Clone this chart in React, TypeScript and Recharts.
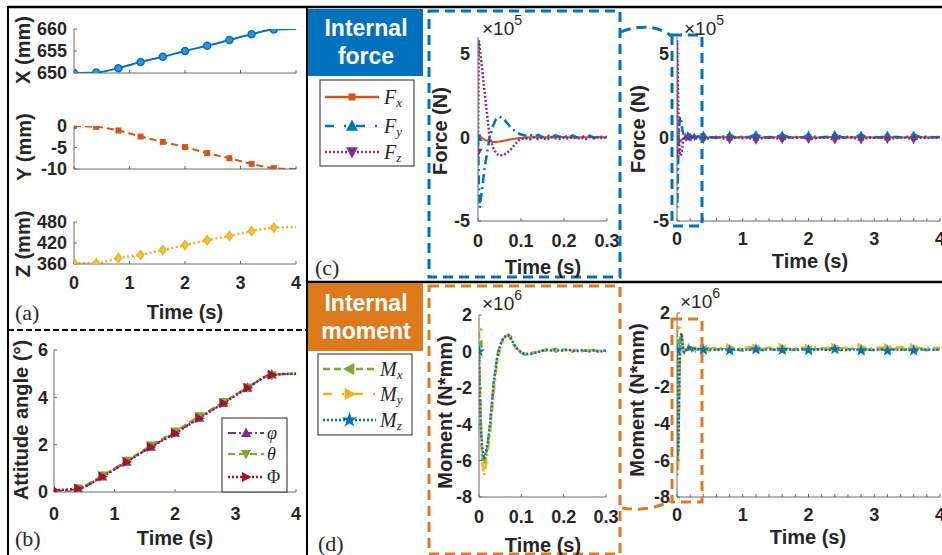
import React from 'react';
import { LineChart, Line, XAxis, YAxis } from 'recharts';

const SANS = '"Liberation Sans", Arial, Helvetica, sans-serif';
const SERIF = '"Liberation Serif", "Times New Roman", serif';
const INK = '#262626';
const AXIS = '#6a6a6a';

const BLUE = '#0072BD';
const ORANGE = '#D95319';
const YELLOW = '#EDB120';
const PURPLE = '#7E2F8E';
const GREEN = '#77AC30';
const RED = '#A2142F';
const BOX_ORANGE = '#DD7A1C';

// (a) end position, mm
const posTime = [0, 0.4, 0.8, 1.2, 1.6, 2.0, 2.4, 2.8, 3.2, 3.6, 4.0];
const posX = [650, 650.1, 651.1, 652.5, 653.7, 655.0, 656.2, 657.5, 658.8, 659.9, 660];
const posY = [0, -0.2, -1.05, -2.45, -3.7, -4.9, -6.3, -7.5, -8.8, -9.8, -10];
const posZ = [364, 362, 377, 386, 400, 414, 428, 440, 454, 464, 466];

// (b) attitude angles, deg
const phi = [0.05, 0.13, 0.66, 1.28, 1.91, 2.5, 3.14, 3.77, 4.41, 4.96, 5.0];
const theta = [-0.05, 0.15, 0.7, 1.32, 1.97, 2.56, 3.2, 3.8, 4.42, 4.93, 5.0];
const bigPhi = [0.08, 0.15, 0.65, 1.27, 1.9, 2.48, 3.12, 3.75, 4.4, 4.95, 5.0];

// (c) internal force, x1e5 N
const forceTime = [
  0, 0.002, 0.004, 0.007, 0.01, 0.015, 0.02, 0.027, 0.035, 0.042,
  0.05, 0.06, 0.074, 0.085, 0.097, 0.11, 0.12, 0.13, 0.14, 0.15,
  0.16, 0.17, 0.18, 0.19, 0.2, 0.21, 0.22, 0.23, 0.24, 0.25,
  0.26, 0.27, 0.28, 0.29, 0.3,
];
const fx = [
  0, 0.1, 0.08, 0.02, -0.05, -0.13, -0.19, -0.24, -0.27, -0.27,
  -0.25, -0.2, -0.13, -0.08, -0.04, -0.02, 0, -0.01, 0.01, 0,
  0.01, -0.01, 0.01, 0, 0.02, 0, 0.01, -0.01, 0.01, 0,
  0.01, 0, 0.02, 0, 0.01,
];
const fy = [
  0, -2.6, -4.2, -3.6, -3.0, -1.9, -1.1, 0, 0.7, 1.1,
  1.24, 1.1, 0.65, 0.4, 0.2, 0.1, 0.18, 0.05, 0.15, 0.02,
  0.14, 0, 0.12, 0.03, 0.1, -0.02, 0.12, 0, 0.08, 0.02,
  0.1, -0.03, 0.06, 0.02, 0.04,
];
const fz = [
  -0.9, 5.8, 5.35, 4.65, 4.0, 2.8, 1.65, 0, -0.6, -0.95,
  -1.1, -1.05, -0.8, -0.45, -0.12, -0.05, -0.12, 0.03, -0.1, -0.02,
  -0.14, 0.02, -0.06, -0.1, 0, -0.08, 0.02, -0.07, -0.01, -0.1,
  0.02, -0.06, 0, -0.05, 0,
];

// rest of the 4 s run
const tailTime = [
  0.4, 0.5, 0.6, 0.7, 0.8, 0.9, 1.0, 1.1, 1.2, 1.3,
  1.4, 1.5, 1.6, 1.7, 1.8, 1.9, 2.0, 2.1, 2.2, 2.3,
  2.4, 2.5, 2.6, 2.7, 2.8, 2.9, 3.0, 3.1, 3.2, 3.3,
  3.4, 3.5, 3.6, 3.7, 3.8, 3.9, 4.0,
];
const fxTail = [
  0.01, -0.01, 0.02, 0, 0.01, -0.01, 0.01, 0.02, 0, -0.01,
  0.01, 0, 0.02, -0.01, 0.01, 0, 0.01, -0.02, 0.01, 0,
  0.02, 0, -0.01, 0.01, 0, 0.01, -0.01, 0.02, 0, 0.01,
  -0.01, 0, 0.01, 0.02, -0.01, 0.01, 0,
];
const fyTail = [
  0.15, 0.03, -0.03, 0.05, 0.14, -0.02, 0.04, 0.02, 0.18, 0.03,
  -0.02, 0.04, 0.15, 0.01, 0.03, -0.02, 0.14, 0.04, 0.0, 0.03,
  0.17, 0.02, -0.03, 0.04, 0.15, 0.01, 0.03, -0.02, 0.14, 0.04,
  0.0, 0.03, 0.15, 0.02, 0.04, 0.01, 0.03,
];
const fzTail = [
  -0.14, -0.04, 0.03, -0.06, -0.16, 0.02, -0.05, -0.02, -0.18, -0.03,
  0.02, -0.05, -0.15, -0.01, -0.04, 0.02, -0.14, -0.05, 0.0, -0.03,
  -0.16, -0.02, 0.03, -0.05, -0.17, -0.01, -0.03, 0.02, -0.14, -0.05,
  0.0, -0.04, -0.15, -0.02, -0.04, -0.01, -0.03,
];

// (d) internal moment, x1e6 N*mm
const momentTime = [
  0, 0.002, 0.005, 0.008, 0.012, 0.016, 0.02, 0.026, 0.03, 0.034,
  0.04, 0.045, 0.05, 0.057, 0.063, 0.069, 0.075, 0.081, 0.09, 0.097,
  0.105, 0.113, 0.123, 0.133, 0.145, 0.16, 0.17, 0.18, 0.19, 0.2,
  0.21, 0.22, 0.23, 0.24, 0.25, 0.26, 0.27, 0.28, 0.29, 0.3,
];
const mx = [
  0.4, -2.0, -4.3, -6.0, -6.2, -5.8, -5.2, -4.1, -3.0, -1.9,
  -0.8, -0.05, 0.35, 0.68, 0.84, 0.88, 0.7, 0.4, 0.1, -0.05,
  -0.15, -0.2, -0.15, -0.05, 0.05, 0.05, 0.15, 0, -0.05, 0.1,
  0.05, -0.02, 0.08, 0, 0.05, 0.02, 0.08, -0.02, 0.05, 0.03,
];
const my = [
  1.2, -1.5, -4.5, -6.2, -6.8, -6.3, -5.6, -4.6, -3.5, -2.4,
  -1.1, -0.35, 0.15, 0.58, 0.8, 0.92, 0.85, 0.52, 0.15, 0,
  -0.1, -0.1, -0.05, -0.05, 0, 0.12, 0.08, 0.15, 0.05, 0.1,
  0.12, 0.03, 0.06, 0.1, 0.02, 0.08, 0.05, 0.1, 0.02, 0.06,
];
const mz = [
  0, -2.5, -4.5, -5.4, -5.8, -5.6, -5.1, -4.0, -3.0, -1.9,
  -0.8, -0.1, 0.35, 0.7, 0.85, 0.9, 0.75, 0.45, 0.15, 0,
  -0.1, -0.15, -0.12, -0.08, 0, 0.1, 0.05, 0.12, 0.02, 0.06,
  0.1, 0.04, 0, 0.06, 0.05, 0, 0.06, 0.03, 0, 0.03,
];
const mxTail = [
  0.02, -0.04, 0.03, 0.06, -0.02, 0.01, -0.05, 0.04, 0.03, -0.02,
  0.05, 0.0, 0.01, -0.04, 0.03, 0.02, -0.03, 0.05, 0.0, 0.03,
  0.04, -0.02, 0.03, 0.06, -0.02, 0.02, -0.03, 0.05, 0.01, 0.04,
  0.0, 0.03, 0.02, 0.05, -0.02, 0.03, 0.02,
];
const myTail = [
  0.1, 0.06, 0.12, 0.08, 0.13, 0.05, 0.1, 0.14, 0.1, 0.07,
  0.12, 0.09, 0.14, 0.06, 0.1, 0.13, 0.08, 0.12, 0.07, 0.11,
  0.14, 0.08, 0.12, 0.1, 0.15, 0.07, 0.11, 0.13, 0.12, 0.09,
  0.15, 0.1, 0.13, 0.09, 0.12, 0.1, 0.11,
];
const mzTail = [
  0.0, 0.02, -0.02, 0.03, -0.03, 0.01, 0.03, -0.01, 0.02, 0.0,
  0.03, -0.02, -0.01, 0.02, 0.0, 0.03, -0.02, 0.01, 0.02, -0.01,
  0.03, 0.0, -0.02, 0.02, -0.04, 0.01, 0.0, 0.02, -0.05, 0.0,
  0.02, -0.01, -0.04, 0.01, 0.02, 0.0, 0.02,
];

const fullTicks = [0, 0.2, 0.4, 0.6, 0.8, 1, 1.2, 1.4, 1.6, 1.8, 2, 2.2, 2.4, 2.6, 2.8, 3, 3.2, 3.4, 3.6, 3.8, 4];
const zoomTicks = [0, 0.1, 0.2, 0.3];

function rows(t: number[], cols: Record<string, number[]>) {
  return t.map((tt, i) => {
    const r: Record<string, number> = { t: tt };
    for (const k of Object.keys(cols)) r[k] = cols[k][i];
    return r;
  });
}

const posData = rows(posTime, { x: posX, y: posY, z: posZ, phi, theta, bigPhi });
const forceZoom = rows(forceTime, { fx, fy, fz });
const forceFull = forceZoom.concat(rows(tailTime, { fx: fxTail, fy: fyTail, fz: fzTail }));
const momentZoom = rows(momentTime, { mx, my, mz });
const momentFull = momentZoom.concat(rows(tailTime, { mx: mxTail, my: myTail, mz: mzTail }));

const isMarkerTime = (t: number) => t < 3.9 && Math.abs(t / 0.4 - Math.round(t / 0.4)) < 1e-6;

function glyph(kind: string, x: number, y: number, s: number, c: string) {
  const h = s / 2;
  switch (kind) {
    case 'circle':
      return <circle cx={x} cy={y} r={h} fill="#3b8fd0" stroke={c} strokeWidth={1.5} />;
    case 'square':
      return <rect x={x - h} y={y - h} width={s} height={s} fill={c} />;
    case 'diamond':
      return <polygon points={`${x},${y - h * 1.1} ${x + h * 0.8},${y} ${x},${y + h * 1.1} ${x - h * 0.8},${y}`} fill="#f2c34a" stroke={c} strokeWidth={1.5} />;
    case 'up':
      return <polygon points={`${x},${y - s * 0.55} ${x + h},${y + s * 0.4} ${x - h},${y + s * 0.4}`} fill={c} />;
    case 'down':
      return <polygon points={`${x},${y + s * 0.55} ${x + h},${y - s * 0.4} ${x - h},${y - s * 0.4}`} fill={c} />;
    case 'right':
      return <polygon points={`${x + s * 0.55},${y} ${x - s * 0.4},${y - h} ${x - s * 0.4},${y + h}`} fill={c} />;
    case 'left':
      return <polygon points={`${x - s * 0.55},${y} ${x + s * 0.4},${y - h} ${x + s * 0.4},${y + h}`} fill={c} />;
    case 'star': {
      const pts: string[] = [];
      for (let i = 0; i < 10; i++) {
        const r = i % 2 === 0 ? h * 1.15 : h * 0.45;
        const a = -Math.PI / 2 + (i * Math.PI) / 5;
        pts.push(`${x + r * Math.cos(a)},${y + r * Math.sin(a)}`);
      }
      return <polygon points={pts.join(' ')} fill={c} />;
    }
    default:
      return null;
  }
}

const dotFn = (kind: string, color: string, size: number) => (p: any) => {
  const { cx, cy, payload, index } = p;
  if (cx == null || cy == null || !payload || !isMarkerTime(payload.t)) return <g key={`m${index}`} />;
  return <g key={`m${index}`}>{glyph(kind, cx, cy, size, color)}</g>;
};

type PlotProps = {
  box: [number, number, number, number];
  data: Record<string, number>[];
  xDomain: [number, number];
  xTicks: number[];
  xFmt?: (v: number) => string;
  yDomain: [number, number];
  yTicks: number[];
  xGap: number;
  yGap: number;
  children: React.ReactNode;
};

const tickFont = { fill: INK, fontSize: 18, fontWeight: 700, fontFamily: SANS };

function Plot({ box, data, xDomain, xTicks, xFmt, yDomain, yTicks, xGap, yGap, children }: PlotProps) {
  const [x0, y0, x1, y1] = box;
  const padL = 52, padT = 16, padR = 14, padB = 34;
  const w = x1 - x0 + padL + padR;
  const h = y1 - y0 + padT + padB;
  return (
    <div style={{ position: 'absolute', left: x0 - padL, top: y0 - padT }}>
      <LineChart width={w} height={h} data={data} margin={{ top: padT, right: padR, bottom: 0, left: 0 }}>
        <XAxis
          type="number"
          dataKey="t"
          domain={xDomain}
          ticks={xTicks}
          interval={0}
          allowDataOverflow
          height={padB}
          tickSize={-3}
          tickMargin={xGap + 3}
          tickFormatter={xFmt || ((v: number) => String(v))}
          tick={tickFont}
          axisLine={{ stroke: AXIS }}
          tickLine={{ stroke: AXIS }}
        />
        <YAxis
          type="number"
          domain={yDomain}
          ticks={yTicks}
          interval={0}
          allowDataOverflow
          width={padL}
          tickSize={-3}
          tickMargin={yGap + 3}
          tick={tickFont}
          axisLine={{ stroke: AXIS }}
          tickLine={{ stroke: AXIS }}
        />
        {children}
      </LineChart>
    </div>
  );
}

function series(key: string, color: string, dash: string | undefined, width: number, kind: string, size: number, curve: 'monotone' | 'linear' = 'linear') {
  return (
    <Line
      key={key}
      dataKey={key}
      type={curve}
      stroke={color}
      strokeWidth={width}
      strokeDasharray={dash}
      dot={dotFn(kind, color, size)}
      activeDot={false}
      isAnimationActive={false}
    />
  );
}

const blank = () => '';
const intOnly = (v: number) => (Number.isInteger(v) ? String(v) : '');

function VLabel({ x, y, children, size = 20 }: { x: number; y: number; children: React.ReactNode; size?: number }) {
  return (
    <text x={x} y={y} transform={`rotate(-90 ${x} ${y})`} textAnchor="middle" dominantBaseline="central"
      fontFamily={SANS} fontWeight={700} fontSize={size} fill={INK}>{children}</text>
  );
}

function HLabel({ x, y, children }: { x: number; y: number; children: React.ReactNode }) {
  return (
    <text x={x} y={y} textAnchor="middle" dominantBaseline="central" fontFamily={SANS} fontWeight={700} fontSize={20} fill={INK}>{children}</text>
  );
}

function Exp({ x, y, p }: { x: number; y: number; p: string }) {
  return (
    <text x={x} y={y} fontFamily={SANS} fontSize={19} fill={INK} dominantBaseline="central">
      ×10<tspan dy={-8} fontSize={14}>{p}</tspan>
    </text>
  );
}

type LegendRow = { y: number; color: string; dash?: string; width: number; kind: string; size: number; main: string; sub?: string; italic?: boolean };

function LegendBox({ x, y, w, h, lx0, lx1, tx, rows: items, font }: { x: number; y: number; w: number; h: number; lx0: number; lx1: number; tx: number; rows: LegendRow[]; font: number }) {
  return (
    <g>
      <rect x={x} y={y} width={w} height={h} fill="#fff" stroke={INK} strokeWidth={1} />
      {items.map((r) => (
        <g key={r.main + (r.sub || '')}>
          <line x1={lx0} x2={lx1} y1={r.y} y2={r.y} stroke={r.color} strokeWidth={r.width} strokeDasharray={r.dash} />
          {glyph(r.kind, (lx0 + lx1) / 2, r.y, r.size, r.color)}
          <text x={tx} y={r.y} dominantBaseline="central" fontFamily={SERIF} fontStyle={r.italic === false ? 'normal' : 'italic'} fontSize={font} fill={INK}>
            {r.main}
            {r.sub && <tspan dy={5} fontSize={font * 0.65}>{r.sub}</tspan>}
          </text>
        </g>
      ))}
    </g>
  );
}

export default function App() {
  return (
    <div style={{ position: 'absolute', left: 0, top: 0, width: 942, height: 555, background: '#fff', overflow: 'hidden' }}>
      {/* (a) */}
      <Plot box={[74, 29, 296, 73]} data={posData} xDomain={[0, 4]} xTicks={[0, 1, 2, 3, 4]} xFmt={blank}
        yDomain={[650, 660]} yTicks={[650, 655, 660]} xGap={13} yGap={7}>
        {series('x', BLUE, undefined, 2, 'circle', 7, 'monotone')}
      </Plot>
      <Plot box={[74, 126, 296, 169]} data={posData} xDomain={[0, 4]} xTicks={[0, 1, 2, 3, 4]} xFmt={blank}
        yDomain={[-10, 0]} yTicks={[-10, -5, 0]} xGap={13} yGap={7}>
        {series('y', ORANGE, '7 4', 2, 'square', 6, 'monotone')}
      </Plot>
      <Plot box={[74, 222, 296, 264]} data={posData} xDomain={[0, 4]} xTicks={[0, 1, 2, 3, 4]}
        yDomain={[360, 480]} yTicks={[360, 420, 480]} xGap={12} yGap={7}>
        {series('z', YELLOW, '2 2.5', 2.5, 'diamond', 8, 'monotone')}
      </Plot>

      {/* (b) */}
      <Plot box={[54, 350, 296, 492]} data={posData} xDomain={[0, 4]} xTicks={[0, 1, 2, 3, 4]}
        yDomain={[0, 6]} yTicks={[0, 2, 4, 6]} xGap={15} yGap={6}>
        {series('phi', PURPLE, '8 3 2 3', 2, 'up', 10, 'monotone')}
        {series('theta', GREEN, '7 4', 2, 'down', 10, 'monotone')}
        {series('bigPhi', RED, '2 2', 2.5, 'right', 10, 'monotone')}
      </Plot>

      {/* (c) */}
      <Plot box={[478, 37, 607, 221]} data={forceZoom} xDomain={[0, 0.3]} xTicks={zoomTicks}
        yDomain={[-5, 6]} yTicks={[-5, 0, 5]} xGap={13} yGap={8}>
        {series('fx', ORANGE, undefined, 2, 'square', 6)}
        {series('fy', BLUE, '9 4 2 4', 2.5, 'up', 9)}
        {series('fz', PURPLE, '2 2', 2.5, 'down', 9)}
      </Plot>
      <Plot box={[677, 37, 940, 221]} data={forceFull} xDomain={[0, 4]} xTicks={fullTicks} xFmt={intOnly}
        yDomain={[-5, 6]} yTicks={[-5, 0, 5]} xGap={11} yGap={8}>
        {series('fx', ORANGE, undefined, 2, 'square', 6)}
        {series('fy', BLUE, '9 4 2 4', 2.5, 'up', 8)}
        {series('fz', PURPLE, '2 2', 2.5, 'down', 8)}
      </Plot>

      {/* (d) */}
      <Plot box={[479, 315, 606, 497]} data={momentZoom} xDomain={[0, 0.3]} xTicks={zoomTicks}
        yDomain={[-8, 2]} yTicks={[-8, -6, -4, -2, 0, 2]} xGap={13} yGap={7}>
        {series('mx', GREEN, '7 4', 2.5, 'left', 9)}
        {series('my', YELLOW, '9 4 2 4', 2.5, 'right', 9)}
        {series('mz', BLUE, '2 2', 2.5, 'star', 11)}
      </Plot>
      <Plot box={[677, 313, 940, 497]} data={momentFull} xDomain={[0, 4]} xTicks={fullTicks} xFmt={intOnly}
        yDomain={[-8, 2]} yTicks={[-8, -6, -4, -2, 0, 2]} xGap={11} yGap={7}>
        {series('mx', GREEN, '7 4', 2.5, 'left', 9)}
        {series('my', YELLOW, '9 4 2 4', 2.5, 'right', 9)}
        {series('mz', BLUE, '2 2', 2.5, 'star', 11)}
      </Plot>

      <svg width={942} height={555} style={{ position: 'absolute', left: 0, top: 0, pointerEvents: 'none' }}>
        {/* frame */}
        <line x1={8} x2={942} y1={7} y2={7} stroke="#000" strokeWidth={2.5} />
        <line x1={8} x2={8} y1={6} y2={555} stroke="#000" strokeWidth={2} />
        <line x1={307} x2={307} y1={6} y2={555} stroke="#000" strokeWidth={2} />
        <line x1={307} x2={942} y1={282} y2={282} stroke="#000" strokeWidth={2.5} />
        <line x1={8} x2={307} y1={330} y2={330} stroke="#000" strokeWidth={2} strokeDasharray="6 3" />

        {/* (a) labels */}
        <VLabel x={23} y={50}>X (mm)</VLabel>
        <VLabel x={24} y={147}>Y (mm)</VLabel>
        <VLabel x={23} y={244}>Z (mm)</VLabel>
        <HLabel x={185} y={312}>Time (s)</HLabel>
        <text x={15} y={312} dominantBaseline="central" fontFamily={SERIF} fontSize={22} fill={INK}>(a)</text>

        {/* (b) labels */}
        <VLabel x={21} y={420}>Attitude angle (°)</VLabel>
        <HLabel x={175} y={538}>Time (s)</HLabel>
        <text x={15} y={538} dominantBaseline="central" fontFamily={SERIF} fontSize={22} fill={INK}>(b)</text>
        <LegendBox x={222} y={418} w={65} h={74} lx0={228} lx1={264} tx={267} font={18}
          rows={[
            { y: 433, color: PURPLE, dash: '8 3 2 3', width: 2, kind: 'up', size: 10, main: 'φ' },
            { y: 454, color: GREEN, dash: '7 4', width: 2, kind: 'down', size: 10, main: 'θ' },
            { y: 477, color: RED, dash: '2 2', width: 2.5, kind: 'right', size: 10, main: 'Φ', italic: false },
          ]} />

        {/* (c) */}
        <rect x={308} y={9} width={115} height={67} fill={BLUE} />
        <text x={366} y={28} textAnchor="middle" dominantBaseline="central" fontFamily={SANS} fontWeight={700} fontSize={23} fill="#fff">Internal</text>
        <text x={366} y={56} textAnchor="middle" dominantBaseline="central" fontFamily={SANS} fontWeight={700} fontSize={23} fill="#fff">force</text>
        <LegendBox x={320} y={80} w={94} h={86} lx0={325} lx1={379} tx={384} font={20}
          rows={[
            { y: 97, color: ORANGE, width: 2.5, kind: 'square', size: 7, main: 'F', sub: 'x' },
            { y: 126, color: BLUE, dash: '9 10 2 10', width: 2.5, kind: 'up', size: 12, main: 'F', sub: 'y' },
            { y: 152, color: PURPLE, dash: '2 2', width: 2.5, kind: 'down', size: 12, main: 'F', sub: 'z' },
          ]} />
        <rect x={429} y={11} width={191} height={266} fill="none" stroke={BLUE} strokeWidth={3} strokeDasharray="10 6" />
        <rect x={672} y={35} width={30} height={191} fill="none" stroke={BLUE} strokeWidth={3} strokeDasharray="10 6" />
        <path d="M 621 32 C 637 25, 658 25, 671 36" fill="none" stroke={BLUE} strokeWidth={3} strokeDasharray="10 6" />
        <VLabel x={440} y={131}>Force (N)</VLabel>
        <VLabel x={638} y={129}>Force (N)</VLabel>
        <HLabel x={543} y={267}>Time (s)</HLabel>
        <HLabel x={810} y={261}>Time (s)</HLabel>
        <Exp x={482} y={28} p="5" />
        <Exp x={684} y={28} p="5" />
        <text x={315} y={267} dominantBaseline="central" fontFamily={SERIF} fontSize={22} fill={INK}>(c)</text>

        {/* (d) */}
        <rect x={308} y={283} width={115} height={68} fill={BOX_ORANGE} />
        <text x={366} y={303} textAnchor="middle" dominantBaseline="central" fontFamily={SANS} fontWeight={700} fontSize={23} fill="#fff">Internal</text>
        <text x={366} y={331} textAnchor="middle" dominantBaseline="central" fontFamily={SANS} fontWeight={700} fontSize={23} fill="#fff">moment</text>
        <LegendBox x={318} y={354} w={94} h={81} lx0={323} lx1={376} tx={380} font={20}
          rows={[
            { y: 369, color: GREEN, dash: '7 4', width: 2.5, kind: 'left', size: 12, main: 'M', sub: 'x' },
            { y: 394, color: YELLOW, dash: '9 10 2 10', width: 2.5, kind: 'right', size: 12, main: 'M', sub: 'y' },
            { y: 420, color: BLUE, dash: '2 2', width: 2.5, kind: 'star', size: 14, main: 'M', sub: 'z' },
          ]} />
        <rect x={429} y={286} width={191} height={268} fill="none" stroke={BOX_ORANGE} strokeWidth={3} strokeDasharray="10 6" />
        <rect x={672} y={319} width={30} height={183} fill="none" stroke={BOX_ORANGE} strokeWidth={3} strokeDasharray="10 6" />
        <path d="M 622 508 C 640 511, 658 508, 670 501" fill="none" stroke={BOX_ORANGE} strokeWidth={3} strokeDasharray="10 6" />
        <VLabel x={445} y={412}>Moment (N*mm)</VLabel>
        <VLabel x={637} y={400}>Moment (N*mm)</VLabel>
        <HLabel x={543} y={545}>Time (s)</HLabel>
        <HLabel x={808} y={537}>Time (s)</HLabel>
        <Exp x={482} y={303} p="6" />
        <Exp x={680} y={301} p="6" />
        <text x={318} y={543} dominantBaseline="central" fontFamily={SERIF} fontSize={22} fill={INK}>(d)</text>
      </svg>
    </div>
  );
}
